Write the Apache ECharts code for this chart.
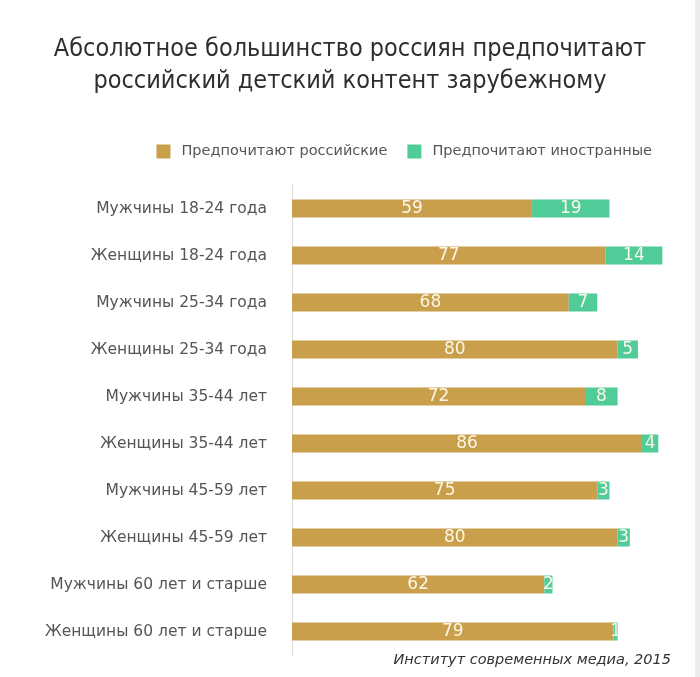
<!DOCTYPE html>
<html>
<head>
<meta charset="utf-8">
<script src="https://cdn.jsdelivr.net/npm/echarts@6/dist/echarts.min.js"></script>
<style>
  html, body { margin: 0; padding: 0; background: #fff; }
  #chart { width: 700px; height: 677px; }
</style>
</head>
<body>
<div id="chart"></div>
<script>
// категории сверху вниз
var categories = [
    'Мужчины 18-24 года', 'Женщины 18-24 года',
    'Мужчины 25-34 года', 'Женщины 25-34 года',
    'Мужчины 35-44 лет', 'Женщины 35-44 лет',
    'Мужчины 45-59 лет', 'Женщины 45-59 лет',
    'Мужчины 60 лет и старше', 'Женщины 60 лет и старше'
];
var russianValues = [59, 77, 68, 80, 72, 86, 75, 80, 62, 79];
var foreignValues = [19, 14, 7, 5, 8, 4, 3, 3, 2, 1];

var seriesNames = ['Предпочитают российские', 'Предпочитают иностранные'];

var chart = echarts.init(document.getElementById('chart'));

var labelStyle = {
    show: true,
    position: 'inside',
    color: '#fbf6e6',
    fontSize: 17,
    fontFamily: 'DejaVu Sans'
};

var option = {
    backgroundColor: '#ffffff',
    title: {
        text: 'Абсолютное большинство россиян предпочитают\nроссийский детский контент зарубежному',
        left: 'center',
        top: 28,
        textStyle: {
            fontFamily: 'Liberation Sans Narrow, DejaVu Sans Condensed, sans-serif',
            fontWeight: 'normal',
            fontSize: 25,
            lineHeight: 32,
            color: '#2e2e2e'
        }
    },
    legend: {
        data: seriesNames,
        top: 139,
        right: 43,
        itemWidth: 14,
        itemHeight: 14,
        itemGap: 20,
        icon: 'rect',
        textStyle: {
            fontFamily: 'DejaVu Sans',
            fontSize: 14.5,
            color: '#555',
            padding: [0, 0, 0, 6]
        }
    },
    grid: {
        left: 292,
        top: 185,
        width: 407,
        height: 470
    },
    xAxis: {
        type: 'value',
        min: 0,
        max: 100,
        show: false
    },
    yAxis: {
        type: 'category',
        data: categories,
        inverse: true,
        axisLine: { lineStyle: { color: '#dcdcdc' } },
        axisTick: { length: 4, lineStyle: { color: '#d4d4d4' } },
        axisLabel: {
            margin: 25,
            fontFamily: 'DejaVu Sans',
            fontSize: 15.5,
            color: '#555'
        }
    },
    series: [
        {
            name: seriesNames[0],
            type: 'bar',
            stack: 'total',
            barWidth: 18,
            itemStyle: { color: '#c99f4c' },
            label: labelStyle,
            data: russianValues
        },
        {
            name: seriesNames[1],
            type: 'bar',
            stack: 'total',
            barWidth: 18,
            itemStyle: { color: '#4fcc98' },
            label: labelStyle,
            data: foreignValues
        }
    ],
    graphic: [
        {
            type: 'rect',
            shape: { x: 695, y: 0, width: 5, height: 677 },
            style: { fill: '#ececec' },
            silent: true
        },
        {
            type: 'text',
            x: 671,
            y: 660,
            style: {
                text: 'Институт современных медиа, 2015',
                align: 'right',
                verticalAlign: 'middle',
                fontFamily: 'DejaVu Sans',
                fontStyle: 'italic',
                fontSize: 14.5,
                fill: '#333'
            }
        }
    ]
};

if (option && typeof option === 'object') {
    chart.setOption(option, true);
}
</script>
</body>
</html>
